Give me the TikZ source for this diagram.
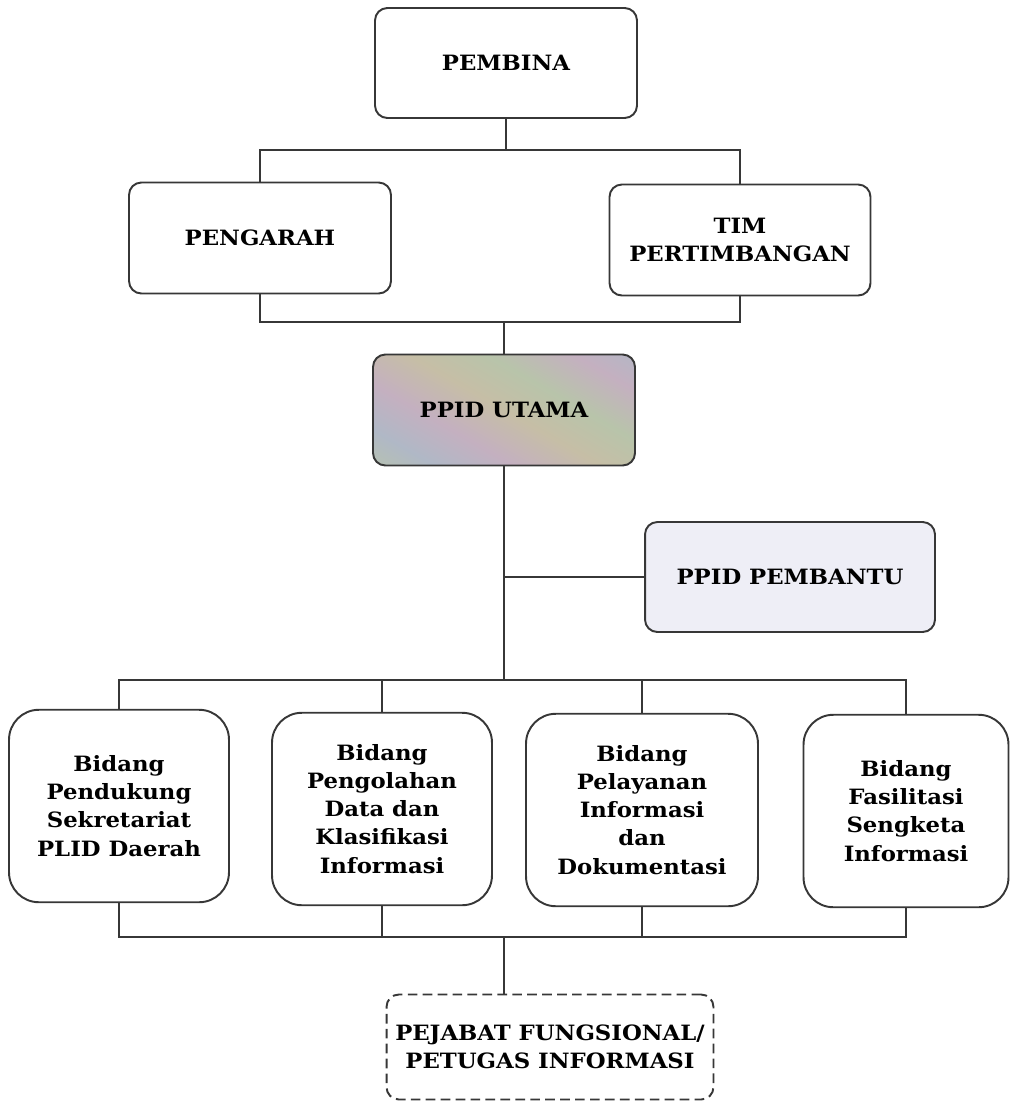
\documentclass[tikz,border=0pt]{standalone}
\usepackage{fontspec}
\setmainfont[FakeStretch=1.08]{DejaVu Serif}
\usepackage{tikz}
\usetikzlibrary{positioning}

\definecolor{linegray}{RGB}{55,55,55}
\definecolor{pastelA}{RGB}{196,176,192}
\definecolor{pastelB}{RGB}{184,196,170}
\definecolor{pastelC}{RGB}{176,184,198}
\definecolor{pastelD}{RGB}{198,190,166}
\definecolor{pembantufill}{RGB}{238,238,246}
\pgfdeclarehorizontalshading{pastelbands}{100bp}{color(0bp)=(pastelA); color(12bp)=(pastelB);
  color(25bp)=(pastelC); color(37bp)=(pastelA); color(50bp)=(pastelD); color(62bp)=(pastelB);
  color(75bp)=(pastelA); color(87bp)=(pastelC); color(100bp)=(pastelD)}

\begin{document}
\begin{tikzpicture}[x=0.02cm,y=-0.02cm,line width=1.1pt,draw=linegray]
       \tikzstyle{box}=[draw=linegray, rounded corners=7pt, align=center, text=black,
                        font=\fontsize{12}{16}\selectfont\bfseries, inner sep=2pt]
       \tikzstyle{bidang}=[box, rounded corners=17pt, minimum width=4.4cm, minimum height=3.85cm]
       \tikzstyle{dashbox}=[box, dash pattern=on 5.5pt off 3pt]

       \useasboundingbox (0,0) rectangle (1010,1106);

       % top of the chart
       \node[box, minimum width=5.24cm, minimum height=2.2cm] (pembina) at (506,63) {PEMBINA};
       \node[box, minimum width=5.24cm, minimum height=2.22cm] (pengarah) at (260,238) {PENGARAH};
       \node[box, minimum width=5.22cm, minimum height=2.22cm] (tim) at (740,240) {TIM\\PERTIMBANGAN};
       \node[box, minimum width=5.24cm, minimum height=2.22cm, shading=pastelbands,
             shading angle=60] (utama) at (504,410) {PPID UTAMA};
       \node[box, minimum width=5.8cm, minimum height=2.2cm, fill=pembantufill] (pembantu)
             at (790,577) {PPID PEMBANTU};

       % bidang
       \node[bidang] (pendukung) at (119,806) {Bidang\\Pendukung\\Sekretariat\\PLID Daerah};
       \node[bidang] (pengolahan) at (382,809) {Bidang\\Pengolahan\\Data dan\\Klasifikasi\\Informasi};
       \node[bidang, minimum width=4.64cm] (pelayanan) at (642,810) {Bidang\\Pelayanan\\Informasi\\dan\\Dokumentasi};
       \node[bidang, minimum width=4.1cm] (fasilitasi) at (906,811) {Bidang\\Fasilitasi\\Sengketa\\Informasi};

       \node[dashbox, minimum width=6.54cm, minimum height=2.1cm] (pejabat) at (550,1047)
             {PEJABAT FUNGSIONAL/\\PETUGAS INFORMASI};

       % bus lines
       \coordinate (busA) at (0,150);
       \coordinate (busB) at (0,322);
       \coordinate (busC) at (0,680);
       \coordinate (busD) at (0,937);

       \draw (pembina.south) -- (pembina.south |- busA);
       \draw (pengarah.north) |- (busA -| tim.north) -- (tim.north);
       \draw (pengarah.south) |- (busB -| tim.south) -- (tim.south);
       \draw (utama.north) -- (utama.north |- busB);
       \draw (utama.south) -- (utama.south |- busC);
       \draw (pembantu.west) -- (pembantu.west -| utama.south);
       \draw (pendukung.north) |- (busC -| fasilitasi.north) -- (fasilitasi.north);
       \draw (pengolahan.north) -- (pengolahan.north |- busC);
       \draw (pelayanan.north) -- (pelayanan.north |- busC);
       \draw (pendukung.south) |- (busD -| fasilitasi.south) -- (fasilitasi.south);
       \draw (pengolahan.south) -- (pengolahan.south |- busD);
       \draw (pelayanan.south) -- (pelayanan.south |- busD);
       \draw (pejabat.north -| utama.south) -- (utama.south |- busD);
\end{tikzpicture}
\end{document}
